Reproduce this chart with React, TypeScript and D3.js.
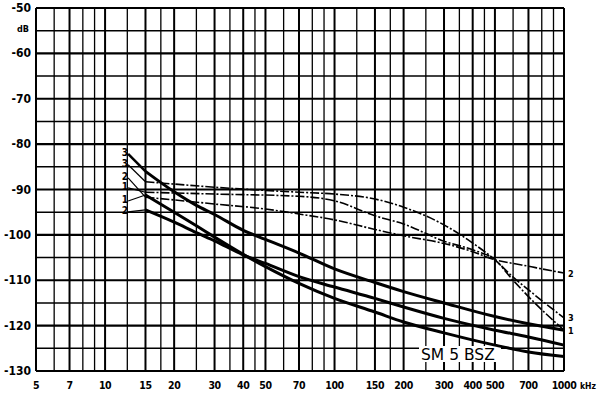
import * as d3 from "d3";

// frequency axis (kHz)
const freqTicks = [5, 7, 10, 15, 20, 30, 40, 50, 70, 100, 150, 200, 300, 400, 500, 700, 1000];
const freqGrid = [
  5, 6, 7, 8, 9, 10, 12.5, 15, 17.5, 20, 25, 30, 35, 40, 45, 50, 60, 70, 80, 90,
  100, 125, 150, 175, 200, 250, 300, 350, 400, 450, 500, 600, 700, 800, 900, 1000,
];
const dbTicks = [-50, -60, -70, -80, -90, -100, -110, -120, -130];

// solid curves [kHz, dB]
const solid3: [number, number][] = [
  [15, -86], [20, -90.5], [25, -93.5], [30, -95.5], [40, -99], [50, -101], [70, -104],
  [100, -107.5], [150, -110.5], [200, -112.5], [300, -115], [500, -118], [700, -119.6], [1000, -121],
];
const solid1: [number, number][] = [
  [15, -91.2], [20, -95], [25, -98], [30, -100.5], [40, -104.3], [50, -107], [70, -110.7],
  [100, -114], [150, -117], [200, -119.2], [300, -121.6], [500, -124.3], [700, -125.8], [1000, -126.8],
];
const solid2: [number, number][] = [
  [15, -94.5], [20, -97.2], [25, -99.5], [30, -101.3], [40, -104.4], [50, -106.3], [70, -109.2],
  [100, -111.5], [150, -114], [200, -115.9], [300, -118.4], [500, -121], [700, -122.5], [1000, -124.3],
];

// dash-dot curves
const dash3: [number, number][] = [
  [15, -88.3], [20, -88.8], [30, -89.5], [50, -90.2], [70, -90.6], [100, -91], [150, -92.1],
  [200, -93.9], [300, -97.8], [400, -101.8], [500, -105.5], [600, -109.3], [700, -112.1], [800, -114.5], [1000, -118.3],
];
const dash1: [number, number][] = [
  [15, -90.6], [30, -91], [70, -91.5], [100, -92.5], [150, -95.8], [200, -97.6], [300, -101.4],
  [400, -103.3], [500, -105.5], [600, -110], [700, -113.6], [800, -116.5], [1000, -121],
];
const dash2: [number, number][] = [
  [15, -91.7], [20, -92.3], [30, -93.2], [50, -94.3], [70, -95.4], [100, -96.7], [150, -98.8],
  [200, -100.2], [300, -101.9], [400, -103.7], [500, -105.5], [600, -106.3], [700, -106.9], [800, -107.5], [1000, -108.4],
];

// curve labels on the left (text, label level in dB) and right
const leftLabels = ["3", "3", "2", "1", "1", "2"];
const leftLabelDb = [-81.7, -84.1, -87, -89.2, -92.1, -94.5];
const rightLabels = ["2", "3", "1"];
const rightLabelDb = [-108.6, -118.3, -121.2];

const W = 598;
const H = 393;
const font = "'DejaVu Sans Condensed', 'DejaVu Sans', sans-serif";

const App = () => {
  const x = d3.scaleLog().domain([5, 1000]).range([36, 564]);
  const y = d3.scaleLinear().domain([-50, -130]).range([8, 371]);
  const line = d3
    .line<[number, number]>()
    .x((d) => x(d[0]))
    .y((d) => y(d[1]))
    .curve(d3.curveMonotoneX);

  const hGrid = d3.range(-50, -131, -5);
  const solids = [solid3, solid1, solid2];
  const dashes = [dash3, dash2, dash1];
  // series each left label points to
  const leftTargets = [solid3, dash3, dash2, dash1, solid1, solid2];

  return (
    <svg width={W} height={H} style={{ position: "absolute", left: 0, top: 0, background: "#fff" }}>
      {/* grid */}
      {freqGrid.map((f) => (
        <line
          key={"v" + f}
          x1={x(f)}
          x2={x(f)}
          y1={y(-50)}
          y2={y(-130)}
          stroke="#000"
          strokeWidth={freqTicks.includes(f) ? 2 : 1.3}
        />
      ))}
      {hGrid.map((v) => (
        <line
          key={"h" + v}
          x1={x(5)}
          x2={x(1000)}
          y1={y(v)}
          y2={y(v)}
          stroke="#000"
          strokeWidth={v % 10 === 0 ? 2.2 : 1.6}
        />
      ))}

      {/* y labels */}
      {dbTicks.map((v) => (
        <text
          key={"yl" + v}
          x={31}
          y={y(v) + 4}
          textAnchor="end"
          fontFamily={font}
          fontWeight="bold"
          fontSize={12}
        >
          {"-" + Math.abs(v)}
        </text>
      ))}
      <text x={29} y={y(-54.3) + 4} textAnchor="end" fontFamily={font} fontWeight="bold" fontSize={9}>
        dB
      </text>

      {/* x labels */}
      {freqTicks.map((f) => (
        <text
          key={"xl" + f}
          x={x(f)}
          y={389}
          textAnchor="middle"
          fontFamily={font}
          fontWeight="bold"
          fontSize={10.5}
          letterSpacing={-0.4}
        >
          {f}
        </text>
      ))}
      <text x={580} y={389} fontFamily={font} fontWeight="bold" fontSize={8.5} textAnchor="start">
        kHz
      </text>

      {/* caption box inside plot */}
      <rect x={419} y={346} width={82} height={16} fill="#fff" />
      <text x={421} y={360} fontFamily="'DejaVu Sans', sans-serif" fontSize={15.5}>
        SM 5 BSZ
      </text>

      {/* curves */}
      {dashes.map((s, i) => (
        <path
          key={"d" + i}
          d={line(s) || ""}
          fill="none"
          stroke="#000"
          strokeWidth={1.6}
          strokeDasharray="9,2,2,2"
        />
      ))}
      {solids.map((s, i) => (
        <path key={"s" + i} d={line(s) || ""} fill="none" stroke="#000" strokeWidth={3} />
      ))}

      {/* left labels with leaders */}
      {leftLabels.map((t, i) => {
        const target = leftTargets[i][0];
        return (
          <g key={"ll" + i}>
            <line
              x1={x(12.6)}
              y1={y(leftLabelDb[i]) + 2}
              x2={x(target[0])}
              y2={y(target[1])}
              stroke="#000"
              strokeWidth={i === 0 ? 2.5 : 1.2}
            />
            <text
              x={x(12.2)}
              y={y(leftLabelDb[i]) + 4}
              textAnchor="middle"
              fontFamily={font}
              fontWeight="bold"
              fontSize={10}
            >
              {t}
            </text>
          </g>
        );
      })}

      {/* right labels */}
      {rightLabels.map((t, i) => (
        <text
          key={"rl" + i}
          x={x(1000) + 4}
          y={y(rightLabelDb[i]) + 3}
          fontFamily={font}
          fontWeight="bold"
          fontSize={9}
        >
          {t}
        </text>
      ))}
    </svg>
  );
};

export default App;
